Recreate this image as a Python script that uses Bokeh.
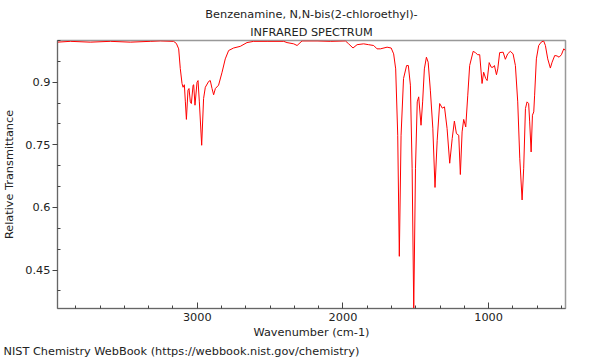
from bokeh.plotting import figure
from bokeh.models import Range1d, FixedTicker, Title
from bokeh.embed import file_html
from bokeh.resources import INLINE

wavenumber = [3960, 3872, 3735, 3597, 3460, 3323, 3254, 3163, 3144, 3128, 3117, 3105, 3098, 3089,
              3082, 3075, 3064, 3057, 3048, 3041, 3029, 3025, 3016, 3002, 2995, 2986, 2970, 2957,
              2945, 2922, 2911, 2899, 2888, 2876, 2854, 2830, 2808, 2785, 2751, 2705, 2659, 2613,
              2521, 2407, 2384, 2338, 2315, 2281, 2178, 2086, 1983, 1961, 1931, 1903, 1858, 1824,
              1789, 1766, 1743, 1697, 1669, 1652, 1638, 1624, 1613, 1601, 1584, 1563, 1551, 1537,
              1525, 1514, 1502, 1490, 1480, 1464, 1453, 1441, 1427, 1415, 1400, 1383, 1368, 1353,
              1336, 1318, 1303, 1285, 1267, 1250, 1235, 1221, 1205, 1194, 1182, 1171, 1157, 1143,
              1130, 1106, 1091, 1075, 1061, 1045, 1034, 1020, 1010, 996, 982, 969, 960, 946, 937,
              924, 900, 885, 869, 851, 832, 816, 800, 786, 770, 759, 747, 736, 725, 718, 708, 699,
              690, 684, 672, 656, 639, 622, 610, 594, 576, 564, 546, 530, 516, 500, 484, 472]
transmittance = [0.996, 0.998, 0.996, 0.998, 0.996, 0.998, 0.999, 0.998, 0.993, 0.980, 0.933, 0.897,
                 0.888, 0.894, 0.853, 0.811, 0.881, 0.885, 0.853, 0.849, 0.893, 0.894, 0.845, 0.900,
                 0.904, 0.853, 0.749, 0.861, 0.888, 0.902, 0.904, 0.885, 0.870, 0.885, 0.893, 0.924,
                 0.956, 0.976, 0.982, 0.986, 0.995, 0.998, 0.998, 0.998, 0.995, 0.992, 0.988, 0.999,
                 0.999, 0.998, 0.999, 0.992, 0.982, 0.990, 0.992, 0.990, 0.988, 0.980, 0.980, 0.984,
                 0.982, 0.968, 0.932, 0.773, 0.483, 0.773, 0.909, 0.940, 0.940, 0.893, 0.694, 0.355,
                 0.694, 0.853, 0.865, 0.797, 0.853, 0.932, 0.960, 0.948, 0.881, 0.790, 0.648, 0.761,
                 0.849, 0.838, 0.841, 0.789, 0.706, 0.765, 0.807, 0.777, 0.773, 0.679, 0.781, 0.811,
                 0.793, 0.869, 0.940, 0.974, 0.971, 0.966, 0.966, 0.897, 0.924, 0.909, 0.904, 0.947,
                 0.936, 0.936, 0.940, 0.918, 0.932, 0.971, 0.972, 0.955, 0.968, 0.974, 0.968, 0.940,
                 0.853, 0.718, 0.618, 0.694, 0.837, 0.853, 0.849, 0.805, 0.733, 0.821, 0.829, 0.869,
                 0.956, 0.988, 0.996, 0.999, 0.988, 0.956, 0.934, 0.948, 0.964, 0.963, 0.960, 0.966,
                 0.980, 0.976]

x_major_ticks = [1000, 2000, 3000]
x_minor_ticks = [500, 667, 833, 1167, 1333, 1500, 1667, 1833, 2167, 2333, 2500, 2667, 2833,
                 3167, 3333, 3500, 3667, 3833]
y_major_ticks = [0.45, 0.6, 0.75, 0.9]
y_minor_ticks = [0.4, 0.5, 0.55, 0.65, 0.7, 0.8, 0.85, 0.95, 1.0]

title_line1 = "Benzenamine, N,N-bis(2-chloroethyl)-"
title_line2 = "INFRARED SPECTRUM"
footer = "NIST Chemistry WebBook (https://webbook.nist.gov/chemistry)"

FONT = "DejaVu Sans"
FS = "11.3px"

p = figure(width=600, height=360, output_backend="svg", toolbar_location=None,
           x_range=Range1d(3960, 472), y_range=Range1d(0.358, 1.0),
           min_border_left=10, min_border_right=35, min_border_top=40, min_border_bottom=52)
p.title = None

p.line(wavenumber, transmittance, line_color="#ff0000", line_width=1)

p.grid.visible = False
p.outline_line_color = "#999999"
p.outline_line_width = 1.5
p.background_fill_color = "white"
p.border_fill_color = "white"

xa = p.xaxis[0]
xa.ticker = FixedTicker(ticks=x_major_ticks, minor_ticks=x_minor_ticks)
xa.axis_label = "Wavenumber (cm-1)"
xa.major_tick_in = 6
xa.major_tick_out = 0
xa.minor_tick_in = 3
xa.minor_tick_out = 0
xa.major_label_standoff = 4
xa.axis_label_standoff = 2

ya = p.yaxis[0]
ya.ticker = FixedTicker(ticks=y_major_ticks, minor_ticks=y_minor_ticks)
ya.axis_label = "Relative Transmittance"
ya.major_tick_in = 0
ya.major_tick_out = 5
ya.minor_tick_in = 3
ya.minor_tick_out = 0
ya.major_label_standoff = 2
ya.axis_label_standoff = 6

for ax in (xa, ya):
    ax.axis_line_color = "#666666"
    ax.major_tick_line_color = "#444444"
    ax.minor_tick_line_color = "#444444"
    ax.major_label_text_font = FONT
    ax.major_label_text_font_size = FS
    ax.major_label_text_color = "#222222"
    ax.axis_label_text_font = FONT
    ax.axis_label_text_font_size = FS
    ax.axis_label_text_font_style = "normal"
    ax.axis_label_text_color = "#222222"

t2 = Title(text=title_line2, align="center", text_font=FONT, text_font_size=FS,
           text_font_style="normal", text_color="#222222", standoff=4)
t1 = Title(text=title_line1, align="center", text_font=FONT, text_font_size=FS,
           text_font_style="normal", text_color="#222222", standoff=2)
p.add_layout(t2, "above")
p.add_layout(t1, "above")

tf = Title(text=footer, align="left", text_font=FONT, text_font_size=FS,
           text_font_style="normal", text_color="#222222", offset=-54, standoff=3)
p.add_layout(tf, "below")

open("out.html", "w").write(file_html(p, INLINE))
